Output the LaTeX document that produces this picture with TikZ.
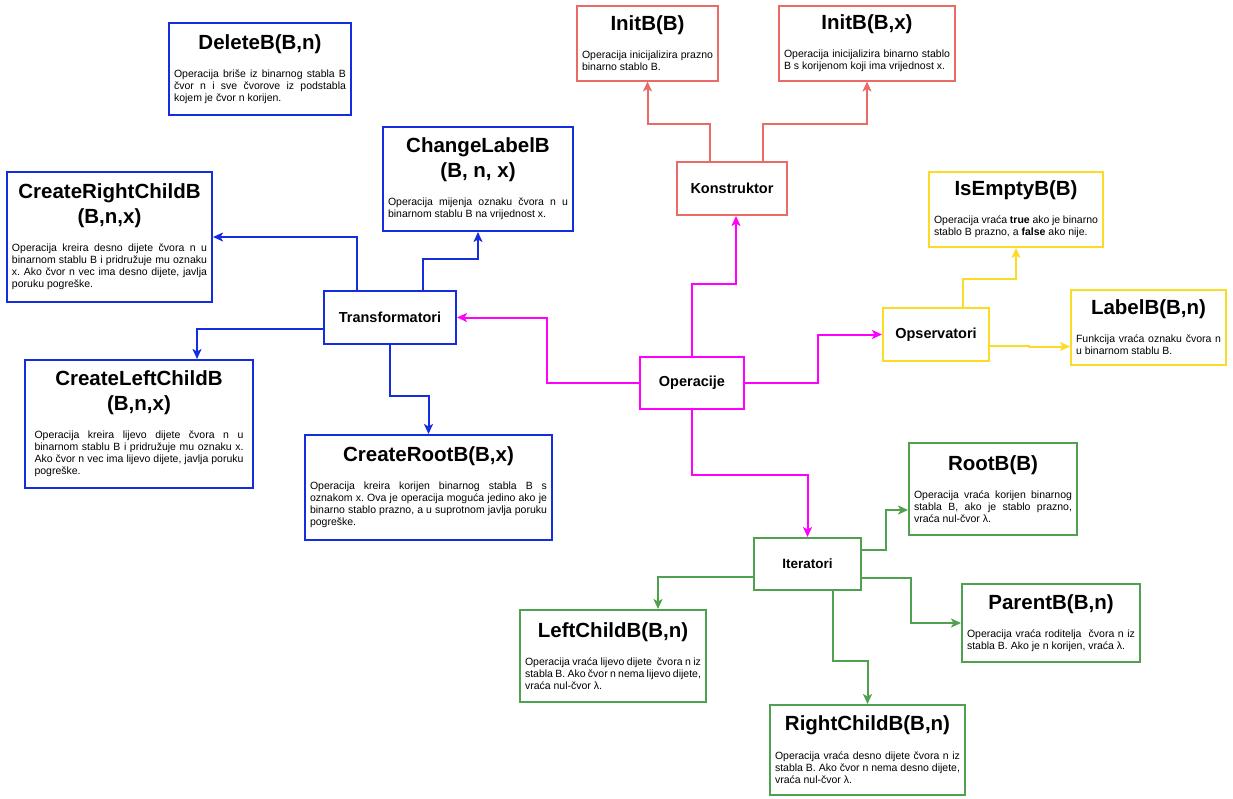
\documentclass[tikz,border=0pt]{standalone}
\usepackage{fontspec}
\setmainfont{Liberation Sans}
\usetikzlibrary{arrows.meta}
\definecolor{tblue}{RGB}{20,45,225}
\definecolor{tred}{RGB}{234,107,102}
\definecolor{tmag}{RGB}{255,0,255}
\definecolor{tyel}{RGB}{252,218,40}
\definecolor{tgreen}{RGB}{80,160,80}
\hyphenpenalty=10000
\frenchspacing
\newcommand{\boxtitle}[1]{{\centering\fontsize{20.5}{25}\selectfont\bfseries #1\par}\vspace{16pt}}

\begin{document}
\begin{tikzpicture}[x=1pt, y=-1pt]
	\tikzstyle{box}=[rectangle, draw, line width=2pt, fill=white, inner xsep=5pt, inner ysep=3pt, align=justify, font=\fontsize{10.5}{12}\selectfont]
	\tikzstyle{group}=[rectangle, draw, line width=2pt, fill=white, font=\fontsize{14.5}{17}\selectfont\bfseries]
	\tikzstyle{link}=[line width=2pt, -{Stealth[length=10pt, width=9pt, inset=2.5pt]}]
	\useasboundingbox (0, 0) rectangle (1233, 798);

	\draw node[group, draw=tmag, minimum width=104pt, minimum height=52pt] at (692, 383) (op) {Operacije};
	\draw node[group, draw=tblue, minimum width=132pt, minimum height=53pt] at (390, 317.5) (tr) {Transformatori};
	\draw node[group, draw=tred, minimum width=110pt, minimum height=53pt] at (732, 188.5) (ko) {Konstruktor};
	\draw node[group, draw=tyel, minimum width=106pt, minimum height=53pt] at (936, 334.5) (obs) {Opservatori};
	\draw node[group, draw=tgreen, minimum width=107pt, minimum height=52pt, font=\fontsize{13.5}{16}\selectfont\bfseries] at (807.5, 564) (it) {Iteratori};

	\draw node[box, draw=tred, text width=131pt, minimum height=75pt] at (647.5, 43) (initb) {\boxtitle{InitB(B)}Operacija inicijalizira prazno binarno stablo B.};
	\draw node[box, draw=tred, text width=166pt, minimum height=75pt] at (867, 43) (initbx) {\boxtitle{InitB(B,x)}Operacija inicijalizira binarno stablo B s korijenom koji ima vrijednost x.};

	\draw node[box, draw=tblue, text width=172pt, minimum height=92pt] at (260, 69) (del) {\boxtitle{DeleteB(B,n)}Operacija briše iz binarnog stabla B čvor n i sve čvorove iz podstabla kojem je čvor n korijen.};
	\draw node[box, draw=tblue, text width=180pt, minimum height=104pt] at (478, 179) (cl) {\boxtitle{ChangeLabelB\\(B, n, x)}Operacija mijenja oznaku čvora n u binarnom stablu B na vrijednost x.};
	\draw node[box, draw=tblue, text width=195pt, minimum height=130pt] at (109.5, 237) (crc) {\boxtitle{CreateRightChildB\\(B,n,x)}Operacija kreira desno dijete čvora n u binarnom stablu B i pridružuje mu oznaku x. Ako čvor n vec ima desno dijete, javlja poruku pogreške.};
	\draw node[box, draw=tblue, text width=209pt, minimum height=128pt, minimum width=228pt] at (139, 424) (clc) {\boxtitle{CreateLeftChildB\\(B,n,x)}Operacija kreira lijevo dijete čvora n u binarnom stablu B i pridružuje mu oznaku x. Ako čvor n vec ima lijevo dijete, javlja poruku pogreške.};
	\draw node[box, draw=tblue, text width=237pt, minimum height=105pt] at (428.5, 487.5) (cr) {\boxtitle{CreateRootB(B,x)}Operacija kreira korijen binarnog stabla B s oznakom x. Ova je operacija moguća jedino ako je binarno stablo prazno, a u suprotnom javlja poruku pogreške.};

	\draw node[box, draw=tyel, text width=164pt, minimum height=75pt] at (1016, 209.5) (ie) {\boxtitle{IsEmptyB(B)}Operacija vraća \textbf{true} ako je binarno stablo B prazno, a \textbf{false} ako nije.};
	\draw node[box, draw=tyel, text width=145pt, minimum height=75pt] at (1148.5, 327.5) (lb) {\boxtitle{LabelB(B,n)}Funkcija vraća oznaku čvora n u binarnom stablu B.};

	\draw node[box, draw=tgreen, text width=158pt, minimum height=92pt] at (993, 489) (rb) {\boxtitle{RootB(B)}Operacija vraća korijen binarnog stabla B, ako je stablo prazno, vraća nul-čvor λ.};
	\draw node[box, draw=tgreen, text width=168pt, minimum height=78pt] at (1051, 623) (pb) {\boxtitle{ParentB(B,n)}Operacija vraća roditelja\ \ čvora n iz stabla B. Ako je n korijen, vraća λ.};
	\draw node[box, draw=tgreen, text width=176pt, minimum height=92pt] at (613, 656) (lc) {\boxtitle{LeftChildB(B,n)}Operacija vraća lijevo dijete\ \ čvora n iz stabla B. Ako čvor n nema lijevo dijete, vraća nul-čvor λ.};
	\draw node[box, draw=tgreen, text width=185pt, minimum height=90pt] at (867.5, 750) (rc) {\boxtitle{RightChildB(B,n)}Operacija vraća desno dijete čvora n iz stabla B. Ako čvor n nema desno dijete, vraća nul-čvor λ.};

	\draw [link, tmag] (op.west) -- ++(-92, 0) |- (tr.east);
	\draw [link, tmag] (op.north) -- ++(0, -72) -| ([xshift=4pt]ko.south);
	\draw [link, tmag] (op.east) -- ++(73, 0) |- (obs.west);
	\draw [link, tmag] (op.south) -- ++(0, 65) -| (it.north);

	\draw [link, tred] ([xshift=-22pt]ko.north) -- ++(0, -37) -| (initb.south);
	\draw [link, tred] ([xshift=31pt]ko.north) -- ++(0, -37) -| (initbx.south);

	\draw [link, tblue] ([xshift=-33pt]tr.north) |- (crc.east);
	\draw [link, tblue] ([xshift=33pt]tr.north) -- ++(0, -31) -| (cl.south);
	\draw [link, tblue] ([yshift=-11.5pt]tr.west) -| ([xshift=58pt]clc.north);
	\draw [link, tblue] (tr.south) -- ++(0, 51) -| (cr.north);

	\draw [link, tyel] ([xshift=27pt]obs.north) -- ++(0, -28) -| (ie.south);
	\draw [link, tyel] ([yshift=-11.5pt]obs.east) -- ++(39, 0) |- ([yshift=-19pt]lb.west);

	\draw [link, tgreen] ([yshift=14pt]it.east) -- ++(24, 0) |- ([yshift=-21pt]rb.west);
	\draw [link, tgreen] ([yshift=-14pt]it.east) -- ++(49, 0) |- (pb.west);
	\draw [link, tgreen] ([yshift=-13pt]it.west) -| ([xshift=45pt]lc.north);
	\draw [link, tgreen] ([xshift=25pt]it.south) -- ++(0, 70) -| (rc.north);
\end{tikzpicture}
\end{document}
